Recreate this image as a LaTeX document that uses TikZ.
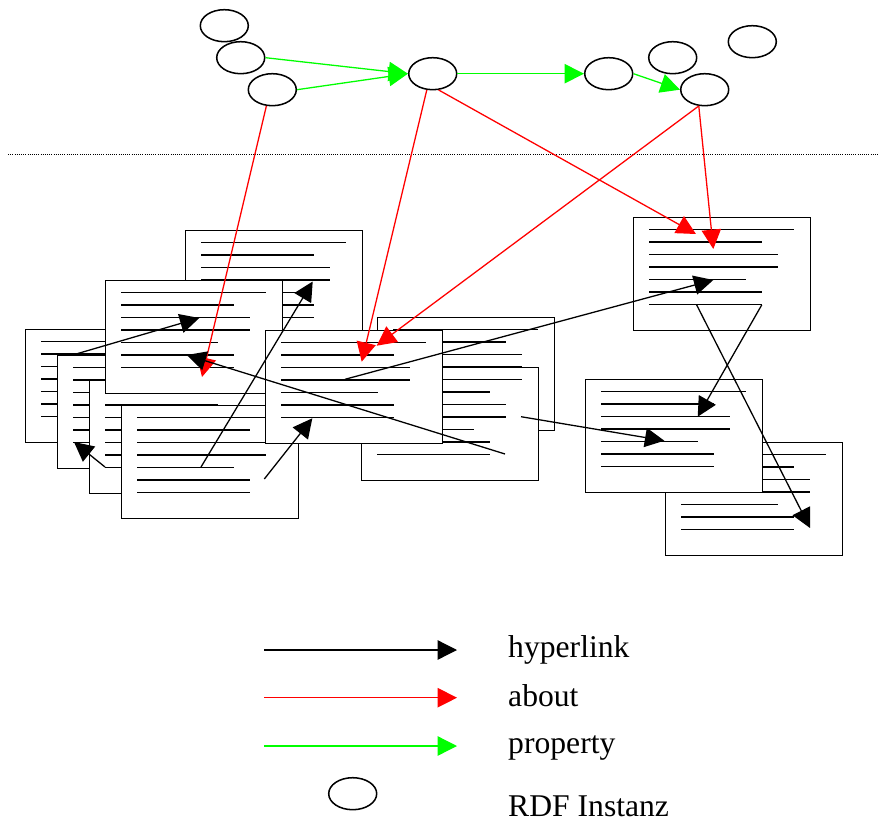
\documentclass[tikz,border=0pt]{standalone}
\usepackage{fontspec}
\setmainfont{Liberation Serif}
\usetikzlibrary{shapes.geometric,calc,arrows.meta,positioning}
\definecolor{aboutred}{RGB}{255,0,0}
\definecolor{propgreen}{RGB}{0,255,0}

\newcommand{\webpage}[3]{%
\node[page] (#1) at (#2,#3) {};
\foreach \len [count=\i] in {145,113,129,129,97,113,113}
  \draw[textline] ($(#1.north west)+(16,12.5*\i)$) -- ++(\len,0);
}

\begin{document}
\begin{tikzpicture}[x=0.03cm,y=-0.03cm,>={Triangle[length=0.58cm,width=0.58cm]},
page/.style = {draw, fill = white, line width = 1.1pt, anchor = north west, inner sep = 0pt, minimum width = 5.31cm, minimum height = 3.39cm},
textline/.style = {line width = 1.25pt},
rdf/.style = {draw, ellipse, line width = 1.3pt, inner sep = 0pt, minimum width = 1.44cm, minimum height = 0.96cm},
hyper/.style = {->, line width = 1.1pt, black},
about/.style = {->, line width = 1.1pt, aboutred},
prop/.style = {->, line width = 1.1pt, propgreen},
legend/.style = {anchor = base west, inner sep = 0pt, font = \fontsize{27}{32}\selectfont},]
\useasboundingbox (0,0) rectangle (878,822);
\webpage{p1}{185}{230}
\webpage{p2}{25}{329}
\webpage{p3}{57}{355}
\webpage{p4}{89}{380}
\webpage{p5}{121}{405}
\webpage{p6}{105}{280}
\webpage{p8}{377}{317}
\webpage{p9}{361}{367}
\webpage{p7}{265}{330}
\webpage{p10}{633}{217}
\webpage{p12}{665}{442}
\webpage{p11}{585}{379}
\node (r1) at (224.3,25.7)[rdf] {};
\node (r2) at (240.7,57.7)[rdf] {};
\node (r3) at (272.3,89.7)[rdf] {};
\node (r4) at (432.7,73.7)[rdf] {};
\node (r5) at (608.7,73.7)[rdf] {};
\node (r6) at (672.7,57.7)[rdf] {};
\node (r7) at (752.3,41.7)[rdf] {};
\node (r8) at (704.7,89.7)[rdf] {};
\draw[densely dotted, line width = 0.85pt] (8,154) -- (878,154);
\draw[prop] (r2.east) -- (r4.west);
\draw[prop] (r3.east) -- (r4.west);
\draw[prop] (r4.east) -- (r5.west);
\draw[prop] (r5.east) -- (r8.west);
\coordinate (a1) at (202,377);
\coordinate (a2) at (361.7,361.7);
\coordinate (a3) at (696,234);
\coordinate (a4) at (376.7,345.7);
\coordinate (a5) at (713.3,249);
\draw[about] (r3.-110) -- (a1);
\draw[about] (r4.-110) -- (a2);
\draw[about] (r4.-70) -- (a3);
\draw[about] (r8.-110) -- (a4);
\draw[about] (r8.-110) -- (a5);
\coordinate (h1) at (72.7,355);
\coordinate (h1e) at (199.3,318);
\coordinate (h2) at (201,467);
\coordinate (h2e) at (312.7,281.5);
\coordinate (h3) at (105,467);
\coordinate (h3e) at (74,442);
\coordinate (h4) at (264.3,479);
\coordinate (h4e) at (312.3,418.3);
\coordinate (h5) at (505,454);
\coordinate (h5e) at (186.7,355);
\coordinate (h6) at (345,379.3);
\coordinate (h6e) at (713.3,280);
\coordinate (h7) at (521,416.7);
\coordinate (h7e) at (664.3,440.7);
\coordinate (h8) at (761.7,305);
\coordinate (h8e) at (697.7,416.7);
\coordinate (h9) at (696.7,305);
\coordinate (h9e) at (810,528);
\draw[hyper] (h1) -- (h1e);
\draw[hyper] (h2) -- (h2e);
\draw[hyper] (h3) -- (h3e);
\draw[hyper] (h4) -- (h4e);
\draw[hyper] (h5) -- (h5e);
\draw[hyper] (h6) -- (h6e);
\draw[hyper] (h7) -- (h7e);
\draw[hyper] (h8) -- (h8e);
\draw[hyper] (h9) -- (h9e);
\coordinate (k1) at (264,650);
\coordinate (k1e) at (457,650);
\coordinate (k2) at (264,697.7);
\coordinate (k2e) at (457,697.7);
\coordinate (k3) at (264,746);
\coordinate (k3e) at (457,746);
\draw[hyper] (k1) -- (k1e);
\draw[about] (k2) -- (k2e);
\draw[prop] (k3) -- (k3e);
\node (rl) at (352.7,793.7)[rdf] {};
\node (t1) at (508,657)[legend] {hyperlink};
\node (t2) at (508,706)[legend] {about};
\node (t3) at (508,753)[legend] {property};
\node (t4) at (508,816)[legend] {RDF Instanz};
\end{tikzpicture}
\end{document}
